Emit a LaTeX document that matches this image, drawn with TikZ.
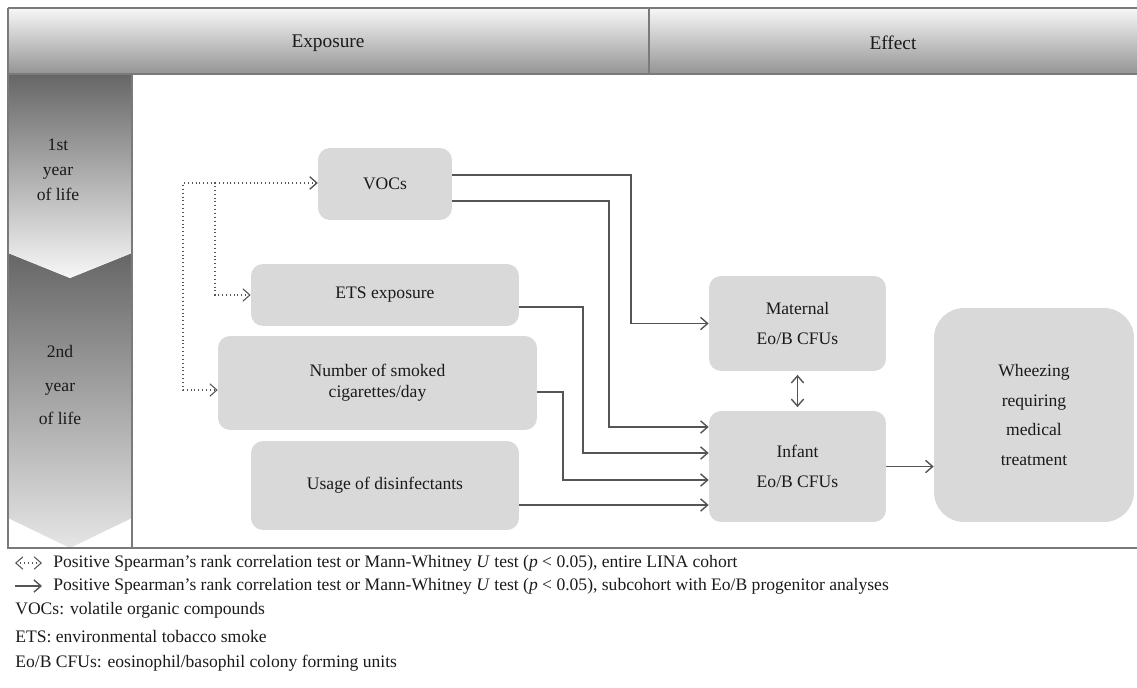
\documentclass[tikz,border=0pt]{standalone}
\usepackage{fontspec}
\setmainfont{Liberation Serif}
\usetikzlibrary{arrows.meta}
\definecolor{boxgray}{HTML}{D9D9D9}
\definecolor{linegray}{HTML}{555555}
\definecolor{framegray}{HTML}{7A7A7A}
\definecolor{txt}{HTML}{1A1A1A}
\tikzset{
  box/.style={fill=boxgray, rounded corners=0.24cm, align=center, text=txt,
    font=\fontsize{10}{17}\selectfont, inner sep=0pt},
  link/.style={draw=linegray, line width=0.8pt, -{Straight Barb[length=4pt,width=7pt]}},
  assoc/.style={draw=linegray, line width=0.6pt, dash pattern=on 0.5pt off 1.7pt,
    {Straight Barb[length=4pt,width=7pt]}-{Straight Barb[length=4pt,width=7pt]}},
  legend/.style={anchor=west, text=txt, font=\fontsize{10}{12}\selectfont, inner sep=0pt},
  head/.style={text=txt, font=\fontsize{11}{13}\selectfont},
}
\begin{document}
\begin{tikzpicture}[x=0.02cm, y=-0.02cm]
  \useasboundingbox (0,0) rectangle (1137,687);
  % header bar
  \shade[top color=black!3, bottom color=black!42] (8,8) rectangle (1137,74);
  \node[head] (exposure) at (328,43) {Exposure};
  \node[head] (effect) at (893,43) {Effect};
  % year column
  \shade[top color=black!60, bottom color=black!10] (8,253) -- (70,278) -- (132,253) -- (132,518) -- (70,548) -- (8,518) -- cycle;
  \shade[top color=black!60, bottom color=black!3] (8,74) -- (132,74) -- (132,253) -- (70,278) -- (8,253) -- cycle;
  \draw[framegray, line width=0.9pt] (8,8) -- (1137,8) (8,74) -- (1137,74) (649,8) -- (649,74)
    (8,8) -- (8,548) -- (1137,548) (132,74) -- (132,548);
  \node[text=txt, align=center, font=\fontsize{10}{14.2}\selectfont] (year1) at (58,170) {1st\\year\\of life};
  \node[text=txt, align=center, font=\fontsize{10}{19.3}\selectfont] (year2) at (60,385) {2nd\\year\\of life};

  % exposures
  \node[box, minimum width=2.68cm, minimum height=1.44cm] (vocs) at (385,184) {VOCs};
  \node[box, minimum width=5.36cm, minimum height=1.24cm] (ets) at (385,295) {ETS exposure};
  \node[box, minimum width=6.38cm, minimum height=1.88cm, font=\fontsize{10}{12}\selectfont] (cig) at (377.5,383) {Number of smoked\\cigarettes/day};
  \node[box, minimum width=5.36cm, minimum height=1.78cm] (dis) at (385,485.5) {Usage of disinfectants};
  % effects
  \node[box, minimum width=3.54cm, minimum height=1.9cm] (mat) at (797.5,323.5) {Maternal\\Eo/B CFUs};
  \node[box, minimum width=3.54cm, minimum height=2.22cm] (inf) at (797.5,466.5) {Infant\\Eo/B CFUs};
  \node[box, rounded corners=0.6cm, minimum width=4cm, minimum height=4.28cm] (whz) at (1034,415) {Wheezing\\requiring\\medical\\treatment};

  % subcohort links
  \draw[link] (vocs.east |- 0,175) -- (631,175) |- (mat.west);
  \draw[link] (vocs.east |- 0,201) -- (609,201) |- (inf.west |- 0,427);
  \draw[link] (ets.east |- 0,307) -- (583,307) |- (inf.west |- 0,453);
  \draw[link] (cig.east |- 0,392) -- (563,392) |- (inf.west |- 0,480);
  \draw[link] (dis.east |- 0,505) -- (inf.west |- 0,505);
  \draw[link, {Straight Barb[length=4pt,width=7pt]}-{Straight Barb[length=4pt,width=7pt]}, shorten <=2pt, shorten >=2pt] (mat.south) -- (inf.north);
  \draw[link] (inf.east) -- (whz.west |- inf.east);
  % whole cohort links
  \draw[assoc] (vocs.west |- 0,183) -- (183,183) |- (cig.west |- 0,390);
  \draw[assoc] (vocs.west |- 0,183) -- (215,183) |- (ets.west);

  % legend
  \coordinate (k1a) at (15,563);
  \coordinate (k1b) at (42,563);
  \coordinate (k2a) at (15,586);
  \coordinate (k2b) at (42,586);
  \draw[assoc] (k1a) -- (k1b);
  \draw[link] (k2a) -- (k2b);
  \node[legend] (leg1) at (53,563) {Positive Spearman’s rank correlation test or Mann-Whitney \textit{U} test (\textit{p} < 0.05), entire LINA cohort};
  \node[legend] (leg2) at (53,586) {Positive Spearman’s rank correlation test or Mann-Whitney \textit{U} test (\textit{p} < 0.05), subcohort with Eo/B progenitor analyses};
  \node[legend] (leg3) at (15,610) {VOCs: volatile organic compounds};
  \node[legend] (leg4) at (15,637) {ETS: environmental tobacco smoke};
  \node[legend] (leg5) at (15,663) {Eo/B CFUs: eosinophil/basophil colony forming units};
\end{tikzpicture}
\end{document}
